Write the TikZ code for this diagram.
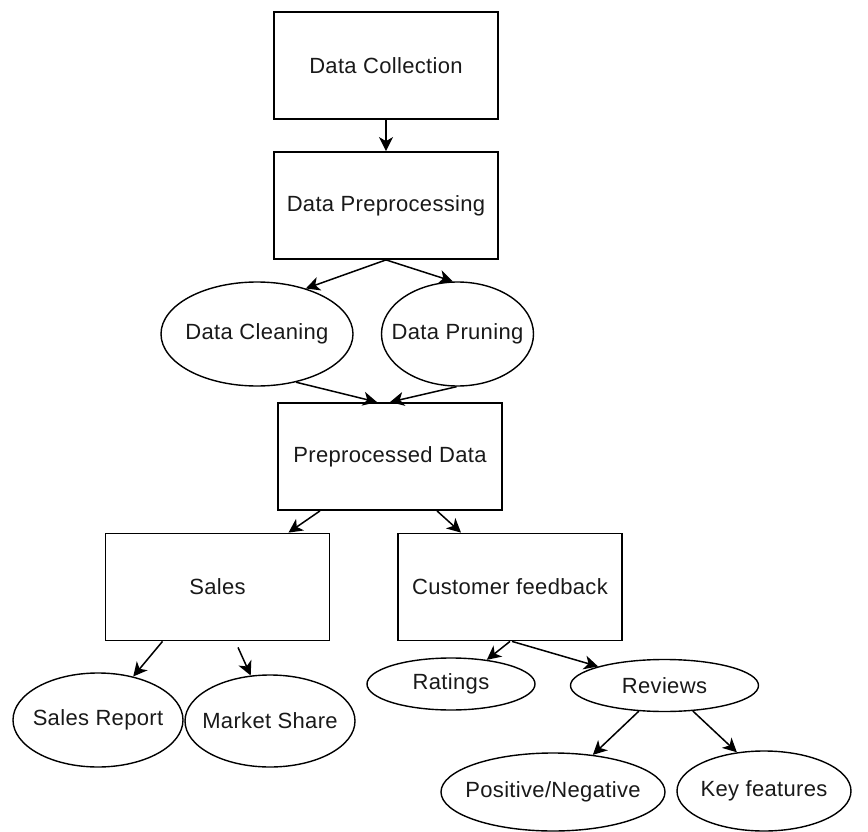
\documentclass[tikz,border=0pt]{standalone}
\usepackage{fontspec}
\setmainfont{Liberation Sans}[LetterSpace=1.5]
\usetikzlibrary{shapes.geometric,arrows.meta}

\begin{document}
\begin{tikzpicture}[x=1pt,y=-1pt,
  every node/.style={font=\fontsize{22}{26}\selectfont, text=black!90},
  stepbox/.style={draw, line width=1.8pt, rectangle, minimum width=224pt, minimum height=107pt, inner sep=0pt},
  oval/.style={draw, line width=1.4pt, ellipse, inner sep=0pt},
  link/.style={line width=1.5pt, -{Stealth[length=14pt,width=14pt,inset=4pt]}}
]
\useasboundingbox (0,0) rectangle (868,832);

% process boxes
\node[stepbox] (dc)   at (386,65.5)  {Data Collection};
\node[stepbox] (pre)  at (386,205.5) {Data Preprocessing};
\node[stepbox] (prep) at (390,456.5) {Preprocessed Data};
\node[stepbox] (sales) at (217.5,587) {Sales};
\node[stepbox] (cust) at (510,587)   {Customer feedback};

% ellipses (text placed as centred labels so the shape keeps its size)
\node[oval, minimum width=192pt, minimum height=104pt, label={center:Data Cleaning}] (clean) at (257,334) {};
\node[oval, minimum width=152pt, minimum height=104pt, label={center:Data Pruning}] (prune) at (457.5,334) {};
\node[oval, minimum width=170pt, minimum height=94pt, label={center:Sales Report}] (srep) at (98,720) {};
\node[oval, minimum width=170pt, minimum height=92pt, label={center:Market Share}] (mshare) at (270,721) {};
\node[oval, minimum width=168pt, minimum height=52pt, label={center:Ratings}] (rat) at (451,684) {};
\node[oval, minimum width=188pt, minimum height=52pt, label={center:Reviews}] (rev) at (664.5,685.5) {};
\node[oval, minimum width=224pt, minimum height=78pt, label={center:Positive/Negative}] (pn) at (553,792) {};
\node[oval, minimum width=174pt, minimum height=80pt, label={center:Key features}] (kf) at (764,791) {};

% connectors
\draw[link] (dc.south) -- (pre.north);
\draw[link] (pre.south) -- (clean.43);
\draw[link] (pre.south) -- (prune.95);
\draw[link] (clean.-51) -- ([xshift=-13pt]prep.north);
\draw[link] (prune.-91) -- (prep.north);
\draw[link] ([xshift=-70pt]prep.south) -- ([xshift=71pt]sales.north);
\draw[link] ([xshift=47pt]prep.south) -- ([xshift=-49pt]cust.north);
\draw[link] ([xshift=-55pt]sales.south) -- (srep.51);
\draw[link] ([xshift=20.5pt,yshift=-6pt]sales.south) -- (mshare.113);
\draw[link] (cust.south) -- (rat.34);
\draw[link] ([xshift=2pt]cust.south) -- (rev.164);
\draw[link] (rev.-135) -- (pn.43);
\draw[link] (rev.-42) -- (kf.125);
\end{tikzpicture}
\end{document}
